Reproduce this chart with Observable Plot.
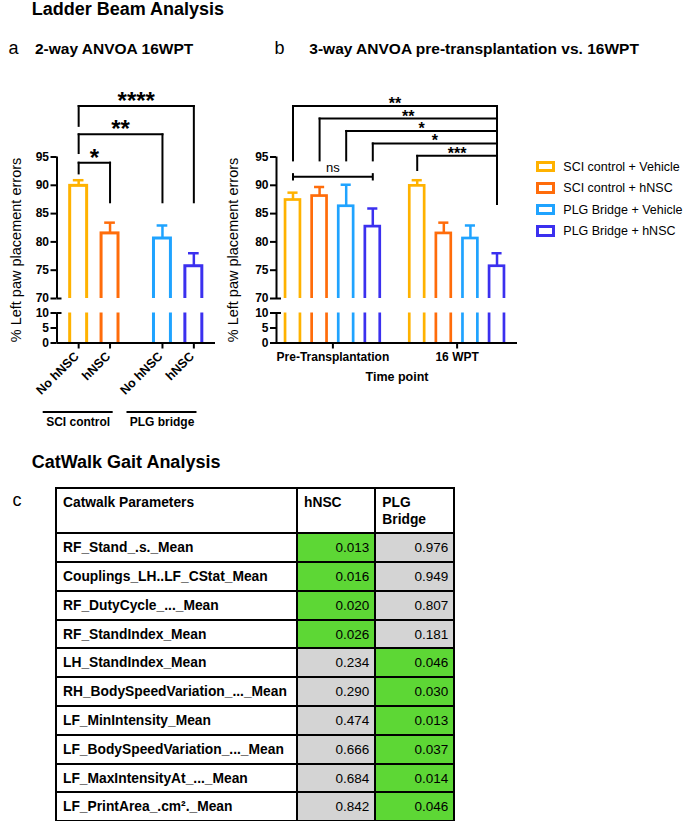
<!DOCTYPE html>
<html><head><meta charset="utf-8">
<script src="https://cdn.jsdelivr.net/npm/d3@7"></script>
<script src="https://cdn.jsdelivr.net/npm/@observablehq/plot@0.6"></script>
<style>
body{margin:0;background:#fff;}
#fig{position:relative;width:685px;height:821px;overflow:hidden;background:#fff;font-family:"Liberation Sans",Arial,Helvetica,sans-serif;color:#000;}
.abs{position:absolute;white-space:nowrap;line-height:1;}
.wrap{position:absolute;}
.wrap svg{overflow:visible;}
table.cw{position:absolute;border-collapse:collapse;table-layout:fixed;font-family:"Liberation Sans",Arial,Helvetica,sans-serif;}
table.cw th, table.cw td{border:2px solid #000;padding:0 6px;overflow:hidden;white-space:nowrap;}
table.cw th{vertical-align:top;text-align:left;font-size:13.8px;font-weight:bold;line-height:17.6px;padding-top:5px;white-space:normal;}
table.cw td.p{font-size:13.8px;font-weight:bold;text-align:left;}
table.cw td.v{font-size:13.5px;text-align:right;padding-right:5px;}
</style></head><body><div id="fig"></div>
<script>
// ---------------- DATA ----------------
const timepoints = ["Pre-Transplantation", "16 WPT"];
const groups = ["SCI control + Vehicle", "SCI control + hNSC", "PLG Bridge + Vehicle", "PLG Bridge + hNSC"];
const colors = ["#FFB200", "#FF6C0A", "#1FA3FF", "#3B30EF"];
const meanPre = [87.4, 88.1, 86.3, 82.7];
const semPre = [1.3, 1.6, 3.8, 3.2];
const mean16 = [89.9, 81.5, 80.6, 75.7];
const sem16 = [1.0, 1.9, 2.3, 2.3];
const surgeryA = ["SCI control", "PLG bridge"];
const treatmentA = ["No hNSC", "hNSC"];
const yTicksUpper = [70, 75, 80, 85, 90, 95];
const yTicksLower = [0, 5, 10];
// comparisons (indices into bar lists)
const compA = [{a: 0, b: 1, label: "*"}, {a: 0, b: 2, label: "**"}, {a: 0, b: 3, label: "****"}];
const compB = [{a: 4, b: 7, label: "***"}, {a: 3, b: 7, label: "*"}, {a: 2, b: 7, label: "*"}, {a: 1, b: 7, label: "**"}, {a: 0, b: 7, label: "**"}];
const nsB = [{a: 0, b: 3, label: "ns"}];
// CatWalk table
const params = ["RF_Stand_.s._Mean", "Couplings_LH..LF_CStat_Mean", "RF_DutyCycle_..._Mean", "RF_StandIndex_Mean", "LH_StandIndex_Mean", "RH_BodySpeedVariation_..._Mean", "LF_MinIntensity_Mean", "LF_BodySpeedVariation_..._Mean", "LF_MaxIntensityAt_..._Mean", "LF_PrintArea_.cm\u00B2._Mean"];
const pHNSC = [0.013, 0.016, 0.020, 0.026, 0.234, 0.290, 0.474, 0.666, 0.684, 0.842];
const pPLG = [0.976, 0.949, 0.807, 0.181, 0.046, 0.030, 0.013, 0.037, 0.014, 0.046];
const tableHeader = ["Catwalk Parameters", "hNSC", "PLG Bridge"];

// ---------------- LAYOUT ----------------
const FONT = '"Liberation Sans", Arial, Helvetica, sans-serif';
const GAP = 0.67;
const fig = document.getElementById("fig");
const style = {fontFamily: FONT, fontSize: "12px", fontWeight: "bold", background: "transparent", color: "#000", overflow: "visible"};
const color = {domain: groups, range: colors};

function put(el, left, top) {
  const w = document.createElement("div");
  w.className = "wrap"; w.style.left = left + "px"; w.style.top = top + "px";
  w.appendChild(el); fig.appendChild(w);
}
function label(text, left, baseline, fs, weight) {
  const d = document.createElement("div");
  d.className = "abs"; d.textContent = text;
  d.style.left = left + "px"; d.style.top = (baseline - 0.8465 * fs) + "px";
  d.style.fontSize = fs + "px"; d.style.fontWeight = weight;
  fig.appendChild(d);
}
function vlabel(text, cx, cy, fs) {
  const d = document.createElement("div");
  d.className = "abs"; d.textContent = text;
  d.style.left = cx + "px"; d.style.top = cy + "px"; d.style.fontSize = fs + "px";
  d.style.transform = "translate(-50%,-50%) rotate(-90deg)";
  fig.appendChild(d);
}

const barsA = groups.map((g, i) => ({group: g, surgery: surgeryA[Math.floor(i / 2)], treatment: treatmentA[i % 2],
  mean: mean16[i], sem: sem16[i], x: Math.floor(i / 2) * (treatmentA.length + GAP) + (i % 2)}));
const barsB = timepoints.flatMap((t, ti) => groups.map((g, gi) => ({time: t, group: g,
  mean: ti ? mean16[gi] : meanPre[gi], sem: ti ? sem16[gi] : semPre[gi], x: ti * (groups.length + GAP) + gi})));

function brackets(comps, bars, lay) {
  const segs = [], labs = [];
  comps.forEach((c, k) => {
    const xa = bars[c.a].x, xb = bars[c.b].x, lv = lay.base + lay.step * k;
    segs.push({x1: xa, y1: lay.leftEnds[k], x2: xa, y2: lv});
    segs.push({x1: xa, y1: lv, x2: xb, y2: lv});
    segs.push({x1: xb, y1: lv, x2: xb, y2: lay.rightEnd});
    labs.push({x: (xa + xb) / 2, y: lv, text: c.label});
  });
  return {segs, labs};
}

function panel(cfg) {
  const {bars, xDomain, width, marginLeft, marginRight, left, sw, hw, cap, br, astSize} = cfg;
  const k = (xDomain[1] - xDomain[0]) / (width - marginLeft - marginRight); // data units per px
  const upper = Plot.plot({
    width, height: 222, marginLeft, marginRight, marginTop: 76.5, marginBottom: 4,
    x: {domain: xDomain, axis: null}, y: {domain: [70, 95]}, color, style,
    marks: [
      Plot.rect(bars, {x1: d => d.x - hw, x2: d => d.x + hw, y1: 60, y2: "mean", stroke: "group", strokeWidth: sw, fill: "none", clip: true}),
      Plot.ruleX(bars, {x: "x", y1: "mean", y2: d => d.mean + d.sem, stroke: "group", strokeWidth: 2.5}),
      Plot.ruleY(bars, {y: d => d.mean + d.sem, x1: d => d.x - cap, x2: d => d.x + cap, stroke: "group", strokeWidth: 2.5}),
      Plot.ruleX([xDomain[0]], {y1: 70, y2: 95, strokeWidth: 2}),
      Plot.axisY({ticks: yTicksUpper, tickSize: 6, tickPadding: 2, label: null, strokeWidth: 2, fontSize: 12}),
      Plot.ruleY([70], {x1: xDomain[0], x2: xDomain[0] + 5 * k, strokeWidth: 2}),
      Plot.link(br.segs, {x1: "x1", y1: "y1", x2: "x2", y2: "y2", stroke: "#000", strokeWidth: 2, strokeLinecap: "square"}),
      Plot.text(br.labs, {x: "x", y: "y", text: "text", lineAnchor: "bottom", dy: 3, fontSize: astSize, fontWeight: "bold"}),
      ...(cfg.upperExtra || [])
    ]
  });
  const lowerH = cfg.lowerH;
  const lower = Plot.plot({
    width, height: lowerH, marginLeft, marginRight, marginTop: 7.5, marginBottom: lowerH - 37.5,
    x: {domain: xDomain}, y: {domain: [0, 10]}, color, style,
    marks: [
      Plot.rect(bars, {x1: d => d.x - hw, x2: d => d.x + hw, y1: -5, y2: 15, stroke: "group", strokeWidth: sw, fill: "none", clip: true}),
      Plot.ruleX([xDomain[0]], {y1: 0, y2: 10, strokeWidth: 2}),
      Plot.ruleY([0], {strokeWidth: 2}),
      Plot.axisY({ticks: yTicksLower, tickSize: 6, tickPadding: 2, label: null, strokeWidth: 2, fontSize: 12}),
      Plot.ruleY([10], {x1: xDomain[0], x2: xDomain[0] + 5 * k, strokeWidth: 2}),
      Plot.axisX({ticks: cfg.xTicks, tickSize: 6, tickFormat: () => "", label: null, strokeWidth: 2}),
      ...(cfg.lowerExtra || [])
    ]
  });
  put(upper, left, 80);
  put(lower, left, 305);
}

// ---------------- TITLES ----------------
label("Ladder Beam Analysis", 31.7, 14.8, 18, "bold");
label("a", 8.5, 54.5, 18, "normal");
label("2-way ANVOA 16WPT", 35, 54, 15.5, "bold");
label("b", 274.5, 54.5, 18, "normal");
label("3-way ANVOA pre-transplantation vs. 16WPT", 309.3, 54, 15.5, "bold");
label("CatWalk Gait Analysis", 31.7, 468, 18, "bold");
label("c", 12.5, 506, 18, "normal");
vlabel("% Left paw placement errors", 16, 250, 14.5);
vlabel("% Left paw placement errors", 232.5, 250, 14.5);

// ---------------- PANEL A ----------------
const groupLinesA = surgeryA.map((s, si) => {
  const xs = barsA.filter(d => d.surgery === s).map(d => d.x);
  return {surgery: s, x1: d3.min(xs) - 1.13, x2: d3.max(xs) + 0.1};
});
panel({
  bars: barsA, xDomain: [-0.69, 4.36], width: 230, marginLeft: 56.5, marginRight: 15, left: 0,
  sw: 3, hw: 0.27, cap: 0.17, astSize: 24,
  br: brackets(compA, barsA, {base: 94, step: 5, leftEnds: [92.1, 95.7, 100.5], rightEnd: 87}),
  xTicks: barsA.map(d => d.x), lowerH: 135,
  lowerExtra: [
    Plot.text(barsA, {x: "x", text: "treatment", rotate: -45, textAnchor: "end", frameAnchor: "bottom", dy: 14, dx: 1, fontSize: 12.5}),
    Plot.ruleY(groupLinesA, {x1: "x1", x2: "x2", y: () => 0, dy: 69, strokeWidth: 2}),
    Plot.text(groupLinesA, {x: d => (d.x1 + d.x2) / 2, text: "surgery", frameAnchor: "bottom", dy: 82.5, fontSize: 12})
  ]
});

// ---------------- PANEL B ----------------
const timeCenters = timepoints.map((t, ti) => ({time: t, x: d3.mean(barsB.filter(d => d.time === t), d => d.x)}));
const nsSegs = [];
nsB.forEach(c => {
  const xa = barsB[c.a].x, xb = barsB[c.b].x, lv = 91.5;
  nsSegs.push({x1: xa, y1: lv, x2: xb, y2: lv}, {x1: xa, y1: lv - 0.65, x2: xa, y2: lv + 0.65}, {x1: xb, y1: lv - 0.65, x2: xb, y2: lv + 0.65});
});
panel({
  bars: barsB, xDomain: [-0.62, 8.44], width: 300, marginLeft: 46, marginRight: 13, left: 230,
  sw: 2.7, hw: 0.28, cap: 0.19, astSize: 16,
  br: brackets(compB, barsB, {base: 95.2, step: 2.2, leftEnds: [92.7, 94.4, 94.4, 94.4, 94.4], rightEnd: 86.7}),
  upperExtra: [
    Plot.link(nsSegs, {x1: "x1", y1: "y1", x2: "x2", y2: "y2", stroke: "#000", strokeWidth: 2}),
    Plot.text(nsB, {x: c => (barsB[c.a].x + barsB[c.b].x) / 2, y: () => 91.5, text: "label", lineAnchor: "bottom", dy: -4.5, fontSize: 13, fontWeight: "normal"})
  ],
  xTicks: timeCenters.map(d => d.x), lowerH: 100,
  lowerExtra: [
    Plot.text(timeCenters, {x: "x", text: "time", frameAnchor: "bottom", dy: 17.5, fontSize: 12}),
    Plot.text(["Time point"], {text: d => d, frameAnchor: "bottom", dy: 37.5, fontSize: 12.5})
  ]
});

// ---------------- LEGEND ----------------
groups.forEach((g, i) => {
  const cy = 166.7 + i * 21.5;
  const sw = document.createElement("div");
  sw.style.cssText = `position:absolute;left:535.7px;top:${cy - 5.8}px;width:19.3px;height:11.6px;box-sizing:border-box;border:3px solid ${colors[i]};`;
  fig.appendChild(sw);
  label(g, 563.3, cy + 4.5, 12.5, "normal");
});

// ---------------- TABLE ----------------
const tbl = document.createElement("table");
tbl.className = "cw";
tbl.style.left = "55px"; tbl.style.top = "486.7px"; tbl.style.width = "398.3px";
const cg = document.createElement("colgroup");
[241, 78.3, 79].forEach(w => { const c = document.createElement("col"); c.style.width = w + "px"; cg.appendChild(c); });
tbl.appendChild(cg);
const hr = tbl.insertRow();
hr.style.height = "45.6px";
tableHeader.forEach(h => { const th = document.createElement("th"); th.textContent = h; hr.appendChild(th); });
hr.cells[2].innerHTML = "PLG<br>Bridge";
const sig = v => v < 0.05 ? "#5DD735" : "#D4D4D4";
params.forEach((p, i) => {
  const r = tbl.insertRow(); r.style.height = "28.8px";
  const c0 = r.insertCell(); c0.className = "p"; c0.textContent = p;
  [pHNSC[i], pPLG[i]].forEach(v => { const c = r.insertCell(); c.className = "v"; c.textContent = v.toFixed(3); c.style.background = sig(v); });
});
fig.appendChild(tbl);
</script>
</body></html>
